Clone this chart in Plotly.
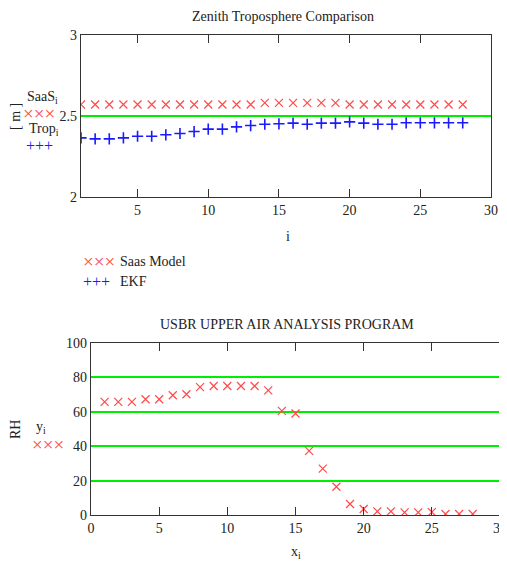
import plotly.graph_objects as go

# ---- data ----
idx = list(range(1, 29))
saas = [2.571] * 13 + [2.581] * 6 + [2.571] * 9
trop = [2.365, 2.359, 2.359, 2.365, 2.375, 2.375, 2.384, 2.392, 2.404, 2.419,
        2.419, 2.433, 2.441, 2.449, 2.452, 2.456, 2.449, 2.456, 2.456, 2.464,
        2.456, 2.449, 2.449, 2.458, 2.458, 2.458, 2.458, 2.458]
x_rh = list(range(1, 29))
rh = [65.8, 65.8, 65.8, 67.3, 67.3, 69.6, 70.2, 74.3, 75.0, 75.0,
      75.0, 75.0, 72.5, 60.5, 59.0, 37.3, 27.0, 16.4, 6.4, 3.5,
      2.1, 2.1, 1.5, 1.5, 1.7, 0.6, 0.6, 0.6]
top_xticks = [5, 10, 15, 20, 25, 30]
top_yticks = [2, 2.5, 3]
bot_xticks = [0, 5, 10, 15, 20, 25, 30]
bot_yticks = [0, 20, 40, 60, 80, 100]

W, H = 507, 565
OFF = 8  # page body margin
RED = "#ff4a4a"
BLUE = "#1a1aff"
GREEN = "#00ee00"
TXT = "#222222"
FONT = "Liberation Serif"


def px(x):
    return (x - OFF) / W


def py(y):
    return 1 - (y - OFF) / H


fig = go.Figure()
fig.add_trace(go.Scatter(x=idx, y=saas, mode="markers", xaxis="x", yaxis="y",
                         marker=dict(symbol="x-thin-open", size=8, line=dict(color=RED, width=1.2), color=RED),
                         showlegend=False))
fig.add_trace(go.Scatter(x=idx, y=trop, mode="markers", xaxis="x", yaxis="y",
                         marker=dict(symbol="cross-thin-open", size=8, line=dict(color=BLUE, width=1.6), color=BLUE),
                         showlegend=False))
fig.add_trace(go.Scatter(x=x_rh, y=rh, mode="markers", xaxis="x2", yaxis="y2",
                         marker=dict(symbol="x-thin-open", size=8, line=dict(color=RED, width=1.2), color=RED),
                         showlegend=False))

axis_common = dict(showline=True, linecolor="#333333", linewidth=1.2, zeroline=False, automargin=False,
                   tickfont=dict(family=FONT, size=14, color=TXT))

fig.update_layout(
    width=W, height=H,
    margin=dict(l=0, r=0, t=0, b=0),
    paper_bgcolor="white", plot_bgcolor="white",
    font=dict(family=FONT, size=14, color=TXT),
    xaxis=dict(domain=[px(81), px(491)], anchor="y", range=[1, 30], tickvals=top_xticks,
               ticks="inside", ticklen=8, tickcolor="#333333", mirror="ticks", showgrid=False,
               **axis_common),
    yaxis=dict(domain=[py(197), py(35)], anchor="x", range=[2, 3], tickvals=top_yticks,
               ticktext=["2", "2.5", "3"], ticks="", mirror=True, showgrid=True,
               gridcolor=GREEN, gridwidth=1.5, **axis_common),
    xaxis2=dict(domain=[px(91), px(500)], anchor="y2", range=[0, 30], tickvals=bot_xticks,
                ticks="inside", ticklen=8, tickcolor="#333333", mirror="ticks", showgrid=False,
                **axis_common),
    yaxis2=dict(domain=[py(515), py(343)], anchor="x2", range=[0, 100], tickvals=bot_yticks,
                ticks="", mirror=True, showgrid=True, gridcolor=GREEN, gridwidth=1.5,
                **axis_common),
)

ann = []


def add(text, x, y, size=14, color=TXT, angle=0, xanchor="center"):
    ann.append(dict(text=text, x=px(x), y=py(y), xref="paper", yref="paper",
                    showarrow=False, font=dict(family=FONT, size=size, color=color),
                    textangle=angle, xanchor=xanchor, yanchor="middle"))


add("Zenith Troposphere Comparison", 283, 17)
add("i", 288, 236)
add("[ m ]", 15, 117, angle=-90)
add("SaaS<sub>i</sub>", 42, 97)
add("×××", 39, 113, size=19, color=RED)
add("Trop<sub>i</sub>", 44, 129)
add("+++", 39, 145, size=16, color=BLUE)
add("×××", 81, 261, size=19, color=RED, xanchor="left")
add("Saas Model", 118, 261, xanchor="left")
add("+++", 81, 281, size=16, color=BLUE, xanchor="left")
add("EKF", 118, 281, xanchor="left")

add("USBR UPPER AIR ANALYSIS PROGRAM", 287, 324, size=14)
add("x<sub>i</sub>", 296, 552)
add("RH", 15, 430, angle=-90)
add("y<sub>i</sub>", 41, 427)
add("×××", 48, 444, size=19, color=RED)

fig.update_layout(annotations=ann)
fig.write_html("out.html")
